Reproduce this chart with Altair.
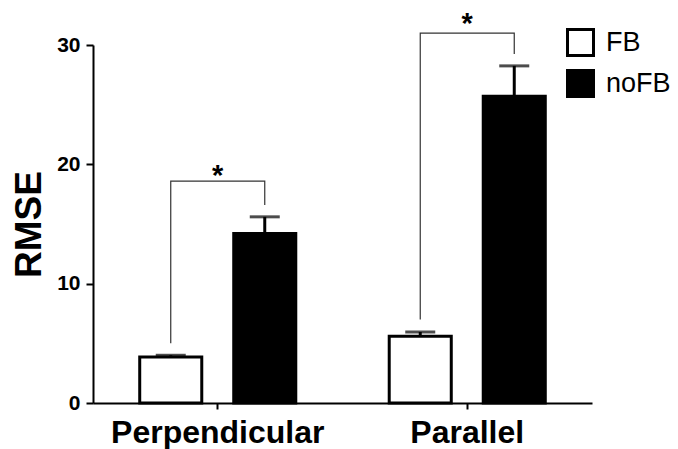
import altair as alt
import pandas as pd

conditions = ["Perpendicular", "Parallel"]
groups = ["FB", "noFB"]
means_fb = [3.85, 5.6]
means_nofb = [14.2, 25.7]
errs_fb = [0.15, 0.35]
errs_nofb = [1.4, 2.55]

bracket_low_fb = [5.0, 7.0]
bracket_top = [18.6, 31.0]
bracket_low_nofb = [16.6, 29.25]
star_y = [19.5, 32.3]
stars = ["*", "*"]

rows = []
for i, c in enumerate(conditions):
    rows.append({"condition": c, "group": "FB", "mean": means_fb[i], "err": errs_fb[i]})
    rows.append({"condition": c, "group": "noFB", "mean": means_nofb[i], "err": errs_nofb[i]})
bars_df = pd.DataFrame(rows)

brows = []
for i, c in enumerate(conditions):
    brows.append({"condition": c, "group": "FB", "y": bracket_low_fb[i], "ord": 1})
    brows.append({"condition": c, "group": "FB", "y": bracket_top[i], "ord": 2})
    brows.append({"condition": c, "group": "noFB", "y": bracket_top[i], "ord": 3})
    brows.append({"condition": c, "group": "noFB", "y": bracket_low_nofb[i], "ord": 4})
br_df = pd.DataFrame(brows)

star_df = pd.DataFrame({"condition": conditions, "y": star_y, "txt": stars})

FONT = "Liberation Sans"

x_enc = alt.X(
    "condition:N",
    sort=conditions,
    scale=alt.Scale(paddingInner=0, paddingOuter=0),
    axis=alt.Axis(
        title=None,
        labelAngle=0,
        labelFont=FONT,
        labelFontSize=32,
        labelFontWeight="bold",
        labelColor="black",
        labelPadding=8,
        labelLimit=400,
        tickSize=6,
        tickWidth=2,
        tickColor="black",
        domainWidth=2,
        domainColor="black",
    ),
)
xo_enc = alt.XOffset("group:N", sort=groups, scale=alt.Scale(paddingInner=0.34, paddingOuter=0.497))
y_scale = alt.Scale(domain=[0, 30], nice=False)
y_enc = alt.Y(
    "mean:Q",
    scale=y_scale,
    axis=alt.Axis(
        title="RMSE",
        values=[0, 10, 20, 30],
        grid=False,
        labelFont=FONT,
        labelFontSize=21,
        labelFontWeight="bold",
        labelColor="black",
        labelPadding=6,
        tickSize=7,
        tickWidth=2,
        tickColor="black",
        domainWidth=2,
        domainColor="black",
        titleFont=FONT,
        titleFontSize=37,
        titleFontWeight="bold",
        titleColor="black",
        titleX=-53,
        titleBaseline="alphabetic",
    ),
)

bars = alt.Chart(bars_df).mark_bar(stroke="black", strokeWidth=3).encode(
    x=x_enc,
    xOffset=xo_enc,
    y=y_enc,
    fill=alt.Fill(
        "group:N",
        sort=groups,
        scale=alt.Scale(domain=groups, range=["white", "black"]),
        legend=alt.Legend(
            title=None,
            orient="none",
            legendX=473,
            legendY=-17,
            symbolType="square",
            symbolSize=676,
            symbolStrokeColor="black",
            symbolStrokeWidth=3,
            labelFont=FONT,
            labelFontSize=27,
            labelColor="black",
            labelOffset=11,
            labelLimit=200,
            rowPadding=2,
            padding=0,
        ),
    ),
)

err_rule = alt.Chart(bars_df).transform_calculate(top="datum.mean + datum.err").mark_rule(
    color="black", strokeWidth=3
).encode(x=x_enc, xOffset=xo_enc, y=alt.Y("mean:Q", scale=y_scale), y2="top:Q")

err_cap = alt.Chart(bars_df).transform_calculate(top="datum.mean + datum.err").mark_tick(
    color="black", thickness=3, size=30
).encode(x=x_enc, xOffset=xo_enc, y=alt.Y("top:Q", scale=y_scale))

brackets = alt.Chart(br_df).mark_line(color="#333333", strokeWidth=1.2, clip=False).encode(
    x=x_enc,
    xOffset=xo_enc,
    y=alt.Y("y:Q", scale=y_scale),
    detail="condition:N",
    order="ord:Q",
)

star_text = alt.Chart(star_df).mark_text(
    font=FONT, fontSize=29, fontWeight="bold", color="black", baseline="middle", dy=6
).encode(x=x_enc, y=alt.Y("y:Q", scale=y_scale), text="txt:N")

chart = (
    alt.layer(bars, err_rule, err_cap, brackets, star_text)
    .properties(
        width=499,
        height=358,
        autosize=alt.AutoSizeParams(type="none"),
        padding={"left": 85, "top": 37, "right": 78, "bottom": 46},
    )
    .configure_view(stroke=None)
)

chart.save("out.html", embed_options={"renderer": "svg", "actions": False})
